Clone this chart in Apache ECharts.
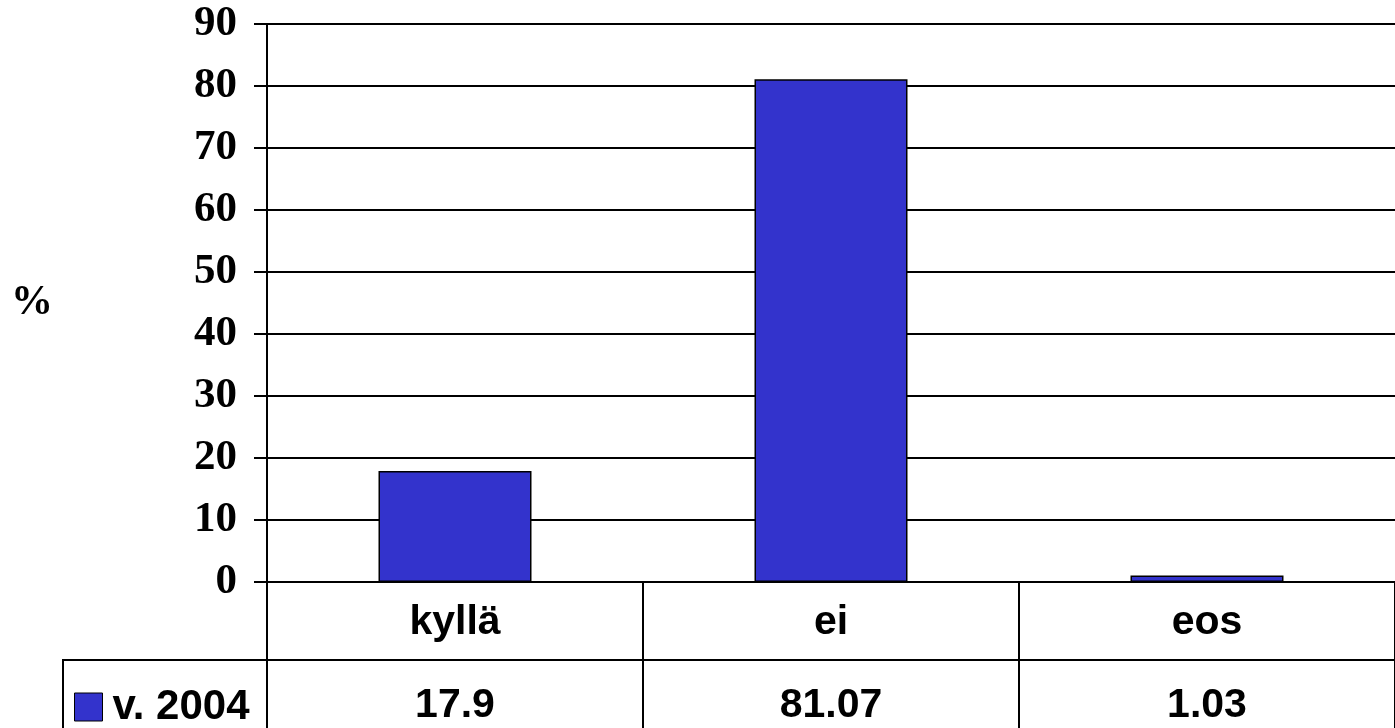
<!DOCTYPE html>
<html>
<head>
<meta charset="utf-8">
<script src="https://cdn.jsdelivr.net/npm/echarts@6/dist/echarts.min.js"></script>
<style>
html,body{margin:0;padding:0;background:#fff;}
#chart{width:1395px;height:728px;}
</style>
</head>
<body>
<div id="chart"></div>
<script>
var categories = ['kyllä', 'ei', 'eos'];
var seriesName = 'v. 2004';
var values2004 = [17.9, 81.07, 1.03];
var yAxisName = '%';

var chart = echarts.init(document.getElementById('chart'));
var serif = '"Liberation Serif", "Times New Roman", serif';
var sans = '"Liberation Sans", Arial, sans-serif';

chart.setOption({
  animation: false,
  backgroundColor: '#fff',
  grid: {left: 267, right: 0, top: 24, height: 558, containLabel: false, outerBoundsMode: 'none'},
  legend: {
    data: [seriesName],
    left: 69, top: 681,
    itemWidth: 28, itemHeight: 28,
    icon: 'rect',
    itemStyle: {borderColor: '#000', borderWidth: 1},
    textStyle: {fontFamily: sans, fontWeight: 'bold', fontSize: 42, color: '#000', padding: [0,0,0,5]}
  },
  xAxis: [{
    type: 'category',
    data: categories,
    position: 'bottom',
    boundaryGap: true,
    axisLine: {show: true, lineStyle: {color: '#000', width: 2}},
    axisTick: {show: true, length: 78, alignWithLabel: false, lineStyle: {color: '#000', width: 2}},
    axisLabel: {fontFamily: sans, fontWeight: 'bold', fontSize: 41, color: '#000', margin: 20},
    splitLine: {show: false}
  }, {
    type: 'category',
    data: categories,
    position: 'bottom',
    offset: 78,
    boundaryGap: true,
    axisLine: {show: true, lineStyle: {color: '#000', width: 2}},
    axisTick: {show: true, length: 68, lineStyle: {color: '#000', width: 2}},
    axisLabel: {
      fontFamily: sans, fontWeight: 'bold', fontSize: 41, color: '#000', margin: 25,
      formatter: function (v, i) { return String(values2004[i]); }
    },
    splitLine: {show: false}
  }],
  yAxis: {
    type: 'value',
    min: 0, max: 90, interval: 10,
    name: yAxisName,
    nameLocation: 'middle',
    nameGap: 214,
    nameRotate: 0,
    nameTextStyle: {fontFamily: serif, fontWeight: 'bold', fontSize: 42, color: '#000', padding: [14,0,0,0]},
    axisLine: {show: true, lineStyle: {color: '#000', width: 2}},
    axisTick: {show: true, length: 13, lineStyle: {color: '#000', width: 2}},
    axisLabel: {fontFamily: serif, fontWeight: 'bold', fontSize: 43, color: '#000', margin: 30},
    splitLine: {show: true, lineStyle: {color: '#000', width: 2}}
  },
  series: [{
    name: seriesName,
    type: 'bar',
    data: values2004,
    barWidth: 153,
    itemStyle: {color: '#3333CC', borderColor: '#000', borderWidth: 1.5}
  }],
  graphic: [
    {type: 'line', shape: {x1: 63, y1: 660, x2: 268, y2: 660}, style: {stroke: '#000', lineWidth: 2}},
    {type: 'line', shape: {x1: 63, y1: 659, x2: 63, y2: 728}, style: {stroke: '#000', lineWidth: 2}}
  ]
});
</script>
</body>
</html>
